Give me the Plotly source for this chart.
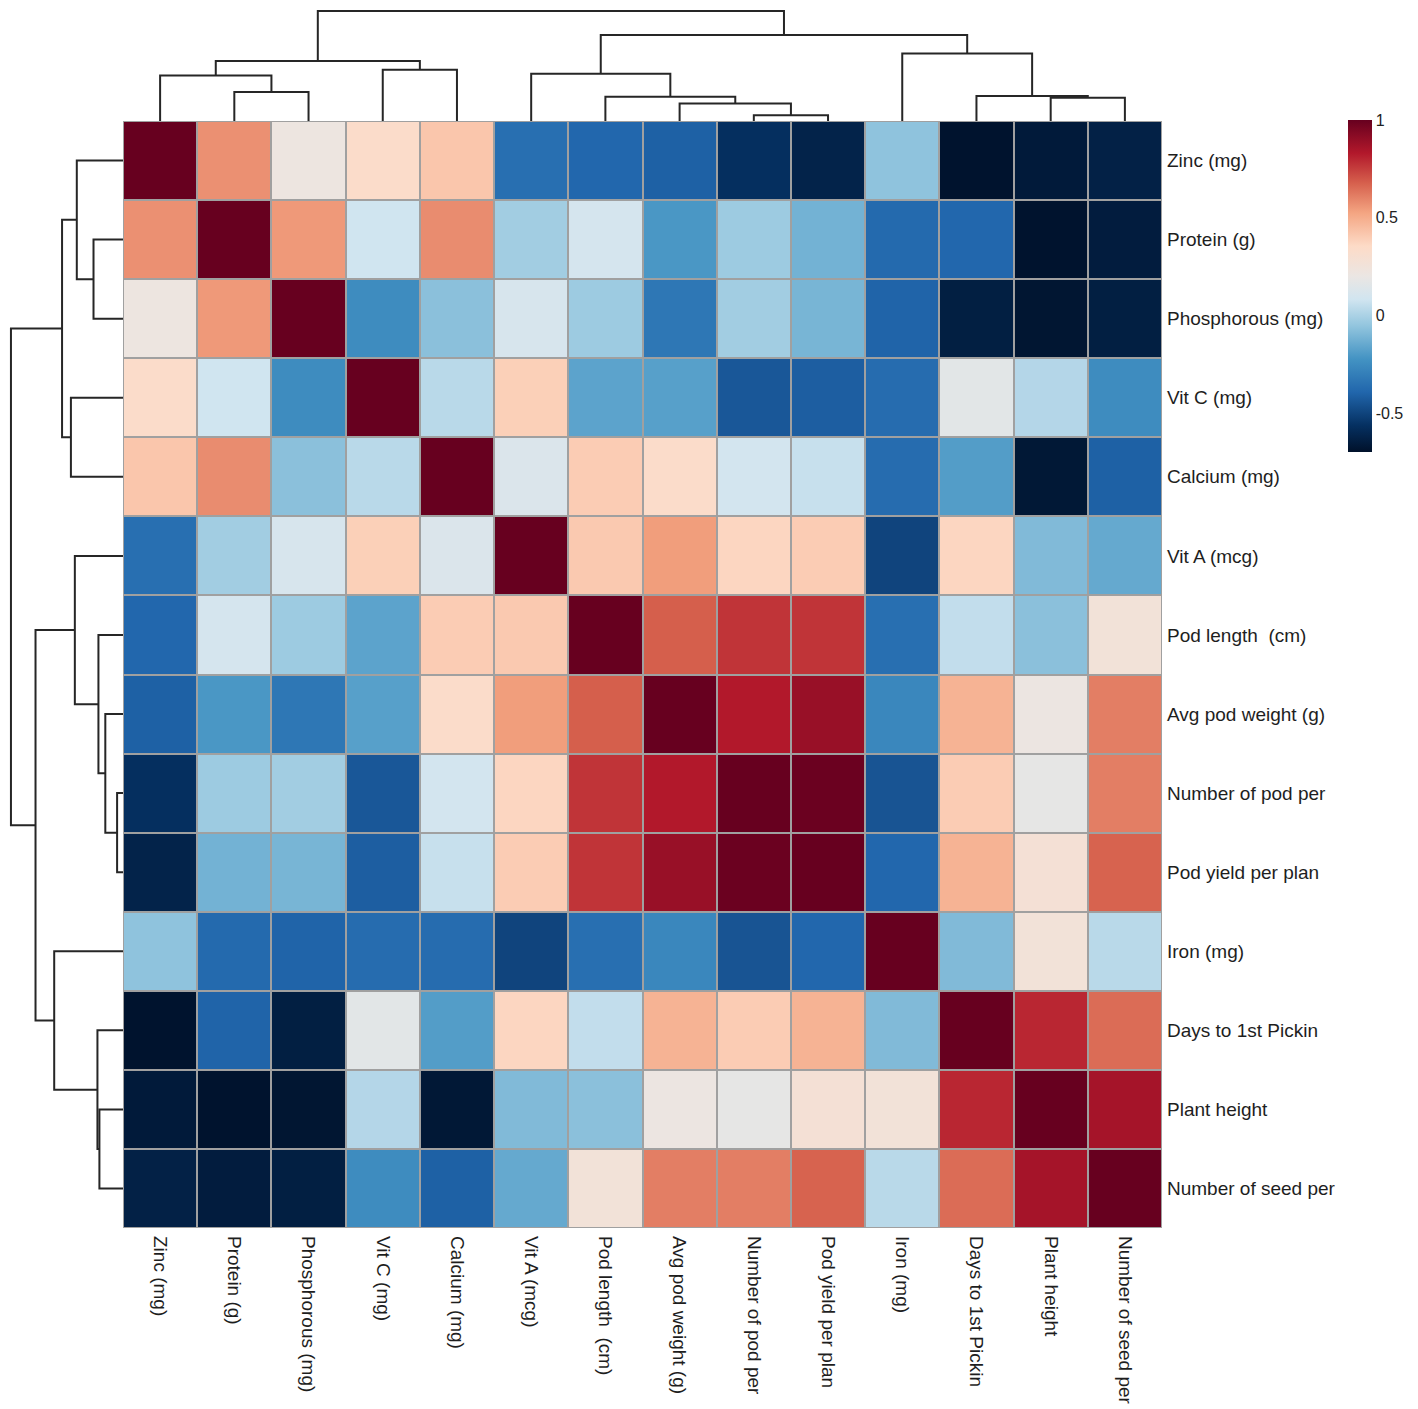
import plotly.graph_objects as go

# variables, in the clustered order shown on both axes
labels = ["Zinc (mg)", "Protein (g)", "Phosphorous (mg)", "Vit C (mg)", "Calcium (mg)",
          "Vit A (mcg)", "Pod length\u00a0 (cm)", "Avg pod weight (g)", "Number of pod per",
          "Pod yield per plan", "Iron (mg)", "Days to 1st Pickin", "Plant height",
          "Number of seed per"]

# correlation matrix
corr = [
    [1.00, 0.57, 0.22, 0.34, 0.42, -0.36, -0.39, -0.41, -0.57, -0.62, -0.06, -0.69, -0.66, -0.63],
    [0.57, 1.00, 0.55, 0.08, 0.58, -0.02, 0.10, -0.21, -0.03, -0.12, -0.38, -0.39, -0.69, -0.65],
    [0.22, 0.55, 1.00, -0.25, -0.07, 0.11, -0.03, -0.33, -0.02, -0.11, -0.40, -0.64, -0.68, -0.64],
    [0.34, 0.08, -0.25, 1.00, 0.03, 0.39, -0.17, -0.18, -0.44, -0.42, -0.37, 0.16, 0.02, -0.25],
    [0.42, 0.58, -0.07, 0.03, 1.00, 0.13, 0.40, 0.34, 0.09, 0.06, -0.37, -0.19, -0.67, -0.41],
    [-0.36, -0.02, 0.11, 0.39, 0.13, 1.00, 0.41, 0.54, 0.37, 0.40, -0.50, 0.37, -0.09, -0.15],
    [-0.39, 0.10, -0.03, -0.17, 0.40, 0.41, 1.00, 0.68, 0.77, 0.77, -0.36, 0.05, -0.07, 0.26],
    [-0.41, -0.21, -0.33, -0.18, 0.34, 0.54, 0.68, 1.00, 0.83, 0.89, -0.27, 0.48, 0.21, 0.61],
    [-0.57, -0.03, -0.02, -0.44, 0.09, 0.37, 0.77, 0.83, 1.00, 0.99, -0.45, 0.40, 0.18, 0.61],
    [-0.62, -0.12, -0.11, -0.42, 0.06, 0.40, 0.77, 0.89, 0.99, 1.00, -0.39, 0.48, 0.28, 0.67],
    [-0.06, -0.38, -0.40, -0.37, -0.37, -0.50, -0.36, -0.27, -0.45, -0.39, 1.00, -0.09, 0.26, 0.03],
    [-0.69, -0.40, -0.64, 0.16, -0.19, 0.37, 0.05, 0.48, 0.40, 0.48, -0.09, 1.00, 0.80, 0.65],
    [-0.66, -0.69, -0.68, 0.02, -0.67, -0.09, -0.07, 0.21, 0.18, 0.28, 0.26, 0.80, 1.00, 0.86],
    [-0.63, -0.65, -0.64, -0.25, -0.41, -0.15, 0.26, 0.61, 0.61, 0.67, 0.03, 0.65, 0.86, 1.00],
]

# hierarchical clustering (scipy-style: ids < 14 are leaves, 14+ are earlier merges)
merge_a = [8, 7, 6, 12, 11, 1, 0, 5, 3, 20, 10, 21, 23]
merge_b = [9, 14, 15, 13, 17, 2, 19, 16, 4, 22, 18, 24, 25]
merge_h = [6, 18, 25, 24, 26, 30, 47, 49, 53, 62, 70, 89, 114]

n = len(labels)
# the page has an 8px body margin, so the figure is 8px smaller and shifted
OFF = 8
W, H = 1410, 1401
hm_left, hm_right, hm_top, hm_bottom = 123 - OFF, 1162 - OFF, 121 - OFF, 1228 - OFF
tree_max = 117  # a bit above the root so the top line is not clipped

colorscale = [
    [0.00, "#00112a"], [0.08, "#053061"], [0.18, "#2166ac"], [0.28, "#4393c3"],
    [0.38, "#92c5de"], [0.46, "#d1e5f0"], [0.53, "#ebe6e3"], [0.62, "#fddbc7"],
    [0.72, "#f4a582"], [0.81, "#d6604d"], [0.90, "#b2182b"], [1.00, "#67001f"],
]


def dendro_lines(flip=False):
    pos = {i: float(i) for i in range(n)}
    hgt = {i: 0.0 for i in range(n)}
    xs, ys = [], []
    for k, (a, b, h) in enumerate(zip(merge_a, merge_b, merge_h)):
        node = n + k
        pos[node] = (pos[a] + pos[b]) / 2
        hgt[node] = h
        p = [pos[a], pos[a], pos[b], pos[b], None]
        q = [hgt[a], h, h, hgt[b], None]
        if flip:
            xs += q
            ys += p
        else:
            xs += p
            ys += q
    return xs, ys


fig = go.Figure()

fig.add_trace(go.Heatmap(
    z=corr, x=list(range(n)), y=list(range(n)),
    colorscale=colorscale, zmin=-0.7, zmax=1.0,
    xgap=2, ygap=2, hoverongaps=False,
    xaxis="x", yaxis="y",
    colorbar=dict(
        x=(1348 - OFF) / W, xanchor="left", y=1 - (120 - OFF) / H, yanchor="top",
        len=332 / H, lenmode="fraction", thickness=24, outlinewidth=0,
        xpad=0, ypad=0,
        tickvals=[-0.5, 0, 0.5, 1], ticktext=["-0.5", "0", "0.5", "1"],
        ticks="", tickfont=dict(size=16, color="#222", family="Liberation Sans"),
    ),
))

tx, ty = dendro_lines()
fig.add_trace(go.Scatter(x=tx, y=ty, mode="lines", xaxis="x2", yaxis="y2",
                         line=dict(color="#262626", width=2), hoverinfo="skip", showlegend=False))
lx, ly = dendro_lines(flip=True)
fig.add_trace(go.Scatter(x=lx, y=ly, mode="lines", xaxis="x3", yaxis="y3",
                         line=dict(color="#262626", width=2), hoverinfo="skip", showlegend=False))

xd = [hm_left / W, hm_right / W]
yd = [1 - hm_bottom / H, 1 - hm_top / H]
lab_font = dict(size=19, color="#1e1e1e", family="Liberation Sans")
hidden = dict(showgrid=False, zeroline=False, showticklabels=False, ticks="", showline=False)

fig.update_layout(
    width=W, height=H, margin=dict(l=0, r=0, t=0, b=0),
    paper_bgcolor="white", plot_bgcolor="white", showlegend=False,
    xaxis=dict(domain=xd, anchor="y", range=[-0.5, n - 0.5], tickmode="array",
               tickvals=list(range(n)), ticktext=labels, tickangle=90, side="bottom",
               tickfont=lab_font, showgrid=False, zeroline=False, ticks="",
               ticklabelstandoff=7, automargin=False),
    yaxis=dict(domain=yd, anchor="x", range=[n - 0.5, -0.5], tickmode="array",
               tickvals=list(range(n)), ticktext=labels, side="right",
               tickfont=lab_font, showgrid=False, zeroline=False, ticks="",
               ticklabelstandoff=4, automargin=False),
    xaxis2=dict(domain=xd, anchor="y2", range=[-0.5, n - 0.5], **hidden),
    yaxis2=dict(domain=[1 - hm_top / H, 1], anchor="x2", range=[0, tree_max], **hidden),
    xaxis3=dict(domain=[0, hm_left / W], anchor="y3", range=[tree_max, 0], **hidden),
    yaxis3=dict(domain=yd, anchor="x3", range=[n - 0.5, -0.5], **hidden),
)

# gray grid behind the cells
fig.add_shape(type="rect", xref="x", yref="y", x0=-0.5, x1=n - 0.5, y0=-0.5, y1=n - 0.5,
              fillcolor="#a0a0a0", line=dict(color="#a0a0a0", width=2), layer="below")

fig.write_html("out.html")
